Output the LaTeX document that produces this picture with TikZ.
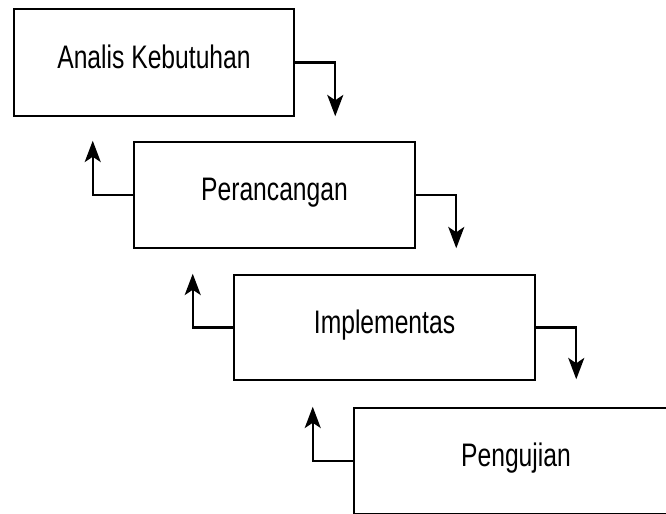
\documentclass[tikz,border=0pt]{standalone}
\usepackage{fontspec}
\setmainfont{Liberation Sans}
\usetikzlibrary{arrows.meta}

\newcommand{\stagetext}[1]{\scalebox{1}[1.32]{#1}}

\tikzset{every picture/.style={line width=0.75pt}}
\tikzset{
  stage/.style={draw, rectangle, line width=1.9pt, inner sep=0pt,
    font=\fontsize{18.5pt}{22pt}\selectfont, text height=17.5pt, text depth=9pt},
  flow/.style={line width=1.7pt, -{Stealth[length=16pt,width=12pt,inset=4pt]}},
}

\begin{document}
\begin{tikzpicture}[x=0.75pt,y=0.75pt,yscale=-1,xscale=1]
    \useasboundingbox (0,0) rectangle (666,513);
    \clip (0,0) rectangle (666,513);

    %Stages
    \node [stage, minimum width=210pt, minimum height=80.25pt] (analisis) at (154,62.5) {\stagetext{Analis Kebutuhan}};
    \node [stage, minimum width=210.75pt, minimum height=79.5pt] (perancangan) at (274.5,195) {\stagetext{Perancangan}};
    \node [stage, minimum width=225.75pt, minimum height=78.75pt] (implementasi) at (384.5,327.5) {\stagetext{Implementas}};
    \node [stage, minimum width=243pt, minimum height=79.5pt] (pengujian) at (516,461) {\stagetext{Pengujian}};

    %Forward arrows
    \draw [flow] (analisis.east) -| ([xshift=30pt,yshift=-0.75pt]analisis.south east);
    \draw [flow] (perancangan.east) -| ([xshift=30pt,yshift=-0.75pt]perancangan.south east);
    \draw [flow] (implementasi.east) -| ([xshift=30pt,yshift=-1.5pt]implementasi.south east);

    %Backward arrows
    \draw [flow] (perancangan.west) -| ([xshift=-30pt]perancangan.north west);
    \draw [flow] (implementasi.west) -| ([xshift=-30pt]implementasi.north west);
    \draw [flow] (pengujian.west) -| ([xshift=-30pt]pengujian.north west);

\end{tikzpicture}
\end{document}
